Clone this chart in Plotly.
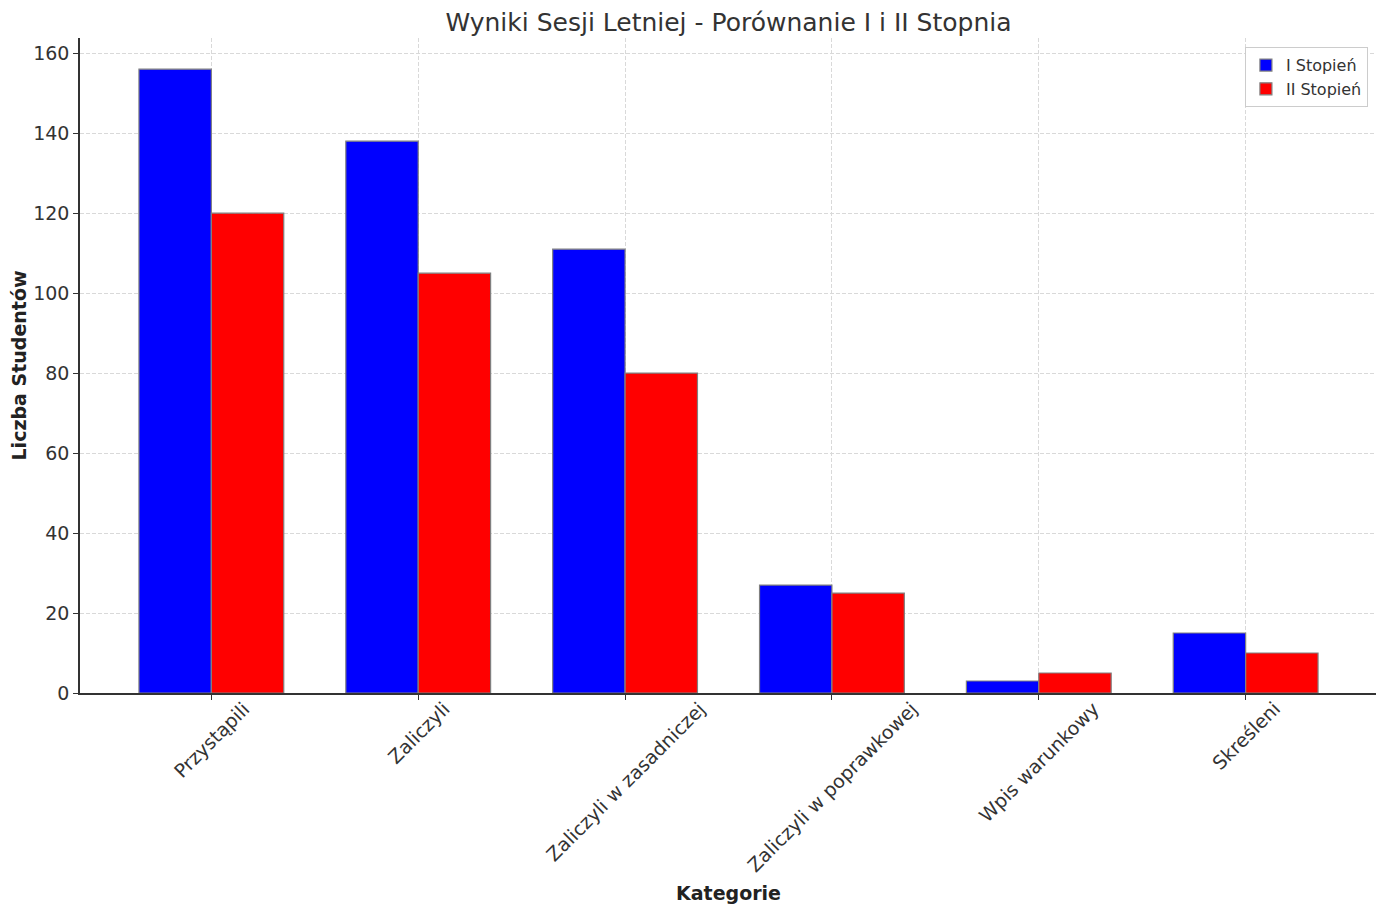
import plotly.graph_objects as go

categories = ["Przystąpili", "Zaliczyli", "Zaliczyli w zasadniczej",
              "Zaliczyli w poprawkowej", "Wpis warunkowy", "Skreśleni"]
stopien_1 = [156, 138, 111, 27, 3, 15]
stopien_2 = [120, 105, 80, 25, 5, 10]
y_ticks = [0, 20, 40, 60, 80, 100, 120, 140, 160]

FONT = "DejaVu Sans"
fig = go.Figure()
fig.add_trace(go.Bar(x=categories, y=stopien_1, name="I Stopień",
                     marker=dict(color="#0000ff", line=dict(color="#808080", width=1.2))))
fig.add_trace(go.Bar(x=categories, y=stopien_2, name="II Stopień",
                     marker=dict(color="#ff0000", line=dict(color="#808080", width=1.2))))

for c in categories:
    fig.add_annotation(x=c, y=0, xref="x", yref="paper", text=c, showarrow=False,
                       textangle=-45, xanchor="center", yanchor="top", yshift=-2,
                       font=dict(family=FONT, size=19, color="#333333"))

fig.update_layout(
    width=1384, height=908,
    paper_bgcolor="white", plot_bgcolor="white",
    barmode="group", bargap=0.3, bargroupgap=0,
    margin=dict(l=72, r=15, t=30, b=223, autoexpand=False),
    title=dict(text="Wyniki Sesji Letniej - Porównanie I i II Stopnia",
               x=(72 + 1369) / 2 / 1384, xanchor="center", y=1 - 14.5 / 908, yanchor="middle",
               font=dict(family=FONT, size=25, color="#333333")),
    font=dict(family=FONT, color="#333333"),
    legend=dict(x=0.993, y=0.986, xanchor="right", yanchor="top",
                bordercolor="#cccccc", borderwidth=1, bgcolor="white",
                font=dict(family=FONT, size=16, color="#333333")),
    showlegend=True,
)
fig.update_xaxes(range=[-0.635, 5.635], showticklabels=False, automargin=False,
                 showgrid=True, gridcolor="#d9d9d9", griddash="4px,2px", gridwidth=1,
                 showline=True, linecolor="#333333", linewidth=1.5,
                 ticks="outside", ticklen=5, tickcolor="#333333",
                 title=dict(text="<b>Kategorie</b>", standoff=188,
                            font=dict(family=FONT, size=19, color="#222222")))
fig.update_yaxes(range=[0, 163.8], tickvals=y_ticks, automargin=False,
                 showgrid=True, gridcolor="#d9d9d9", griddash="4px,2px", gridwidth=1,
                 showline=True, linecolor="#333333", linewidth=1.5,
                 ticks="outside", ticklen=5, tickcolor="#333333",
                 tickfont=dict(family=FONT, size=19, color="#333333"),
                 zeroline=False,
                 title=dict(text="<b>Liczba Studentów</b>", standoff=12,
                            font=dict(family=FONT, size=19, color="#222222")))

fig.write_html("out.html")
